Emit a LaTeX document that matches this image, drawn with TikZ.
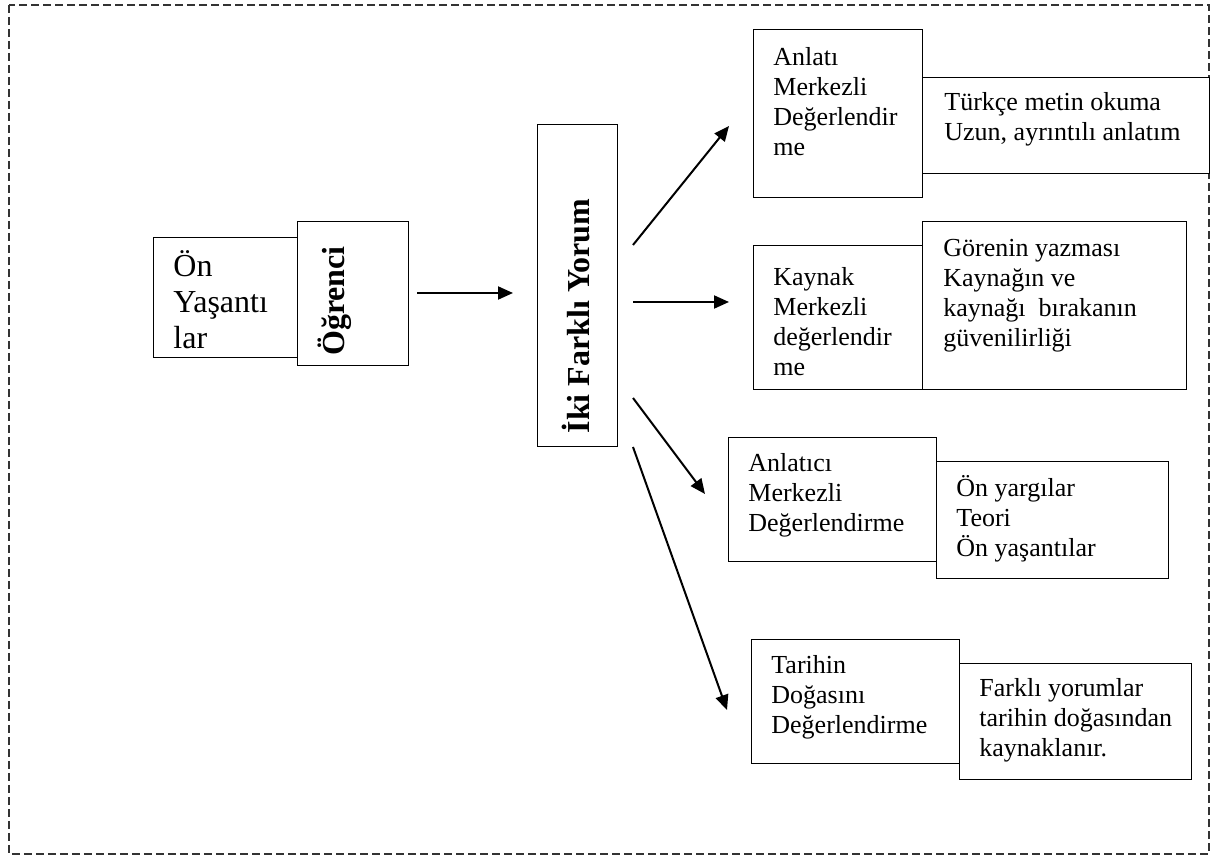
\documentclass[tikz,border=0pt]{standalone}
\usepackage{fontspec}
\setmainfont{Liberation Serif}
\usetikzlibrary{arrows.meta}
\begin{document}
\begin{tikzpicture}[x=0.5pt,y=-0.5pt,
  frame/.style={draw=black!80, line width=0.6pt, dash pattern=on 4pt off 2pt},
  box/.style={draw, line width=0.6pt, fill=white, inner sep=0pt, anchor=north west},
  txt/.style={anchor=west, align=left, inner sep=0pt, font=\fontsize{13}{15}\selectfont},
  bigtxt/.style={anchor=west, align=left, inner sep=0pt, font=\fontsize{16}{18}\selectfont},
  vtitle/.style={rotate=90, inner sep=0pt, font=\fontsize{16}{18}\selectfont\bfseries},
  arr/.style={-{Triangle[length=7.5pt,width=6.5pt]}, line width=1pt}
]
\path[use as bounding box] (0,0) rectangle (1222,855);

% outer dashed frame
\draw[frame] (9,5) rectangle (1209,854);

% learner block
\node[box, minimum width=72.5pt, minimum height=60pt] (onyas) at (153,237) {};
\node[box, minimum width=55.5pt, minimum height=72pt] (ogr) at (297,221) {};
\node[bigtxt] (onyastxt) at (173,300) {Ön\\Yaşantı\\lar};
\node[vtitle] (ogrtxt) at (335,301) {Öğrenci};

% central block
\node[box, minimum width=40pt, minimum height=161pt] (iki) at (537,124) {};
\node[vtitle, anchor=base] (ikitxt) at (589,316) {İki Farklı Yorum};

% four evaluation approaches
\node[box, minimum width=84.5pt, minimum height=84pt] (anl) at (753,29) {};
\node[box, minimum width=143.5pt, minimum height=48pt] (turk) at (922,77) {};
\node[txt] (anltxt) at (773,102) {Anlatı\\Merkezli\\Değerlendir\\me};
\node[txt] (turktxt) at (944,119) {Türkçe metin okuma\\Uzun, ayrıntılı anlatım};

\node[box, minimum width=84.5pt, minimum height=72pt] (kay) at (753,245) {};
\node[box, minimum width=132pt, minimum height=84pt] (gor) at (922,221) {};
\node[txt] (kaytxt) at (773,322) {Kaynak\\Merkezli\\değerlendir\\me};
\node[txt] (gortxt) at (943,296) {Görenin yazması\\Kaynağın ve\\kaynağı\ \ bırakanın\\güvenilirliği};

\node[box, minimum width=104pt, minimum height=62pt] (anc) at (728,437) {};
\node[box, minimum width=116pt, minimum height=58.5pt] (ony) at (936,461) {};
\node[txt] (anctxt) at (748,495) {Anlatıcı\\Merkezli\\Değerlendirme};
\node[txt] (onytxt) at (956,519) {Ön yargılar\\Teori\\Ön yaşantılar};

\node[box, minimum width=104pt, minimum height=62pt] (tar) at (751,639) {};
\node[box, minimum width=116pt, minimum height=58pt] (far) at (959,663) {};
\node[txt] (tartxt) at (771,697) {Tarihin\\Doğasını\\Değerlendirme};
\node[txt] (fartxt) at (979,720) {Farklı yorumlar\\tarihin doğasından\\kaynaklanır.};

% arrow end points
\coordinate (a0s) at (417,293); \coordinate (a0e) at (513,293);
\coordinate (a1s) at (633,245); \coordinate (a1e) at (729,126);
\coordinate (a2s) at (633,302); \coordinate (a2e) at (729,302);
\coordinate (a3s) at (633,398); \coordinate (a3e) at (705,494);
\coordinate (a4s) at (633,447); \coordinate (a4e) at (727,710);

\draw[arr] (a0s) -- (a0e);
\draw[arr] (a1s) -- (a1e);
\draw[arr] (a2s) -- (a2e);
\draw[arr] (a3s) -- (a3e);
\draw[arr] (a4s) -- (a4e);
\end{tikzpicture}
\end{document}
